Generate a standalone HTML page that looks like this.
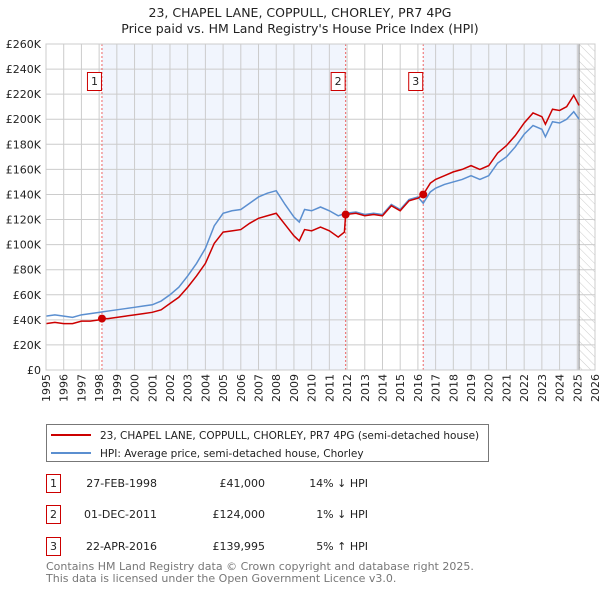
<!DOCTYPE html>
<html><head><meta charset="utf-8"><style>
body{margin:0;background:#fff;width:600px;height:590px;overflow:hidden;font-family:"DejaVu Sans","Liberation Sans",sans-serif}
svg text{font-family:"DejaVu Sans","Liberation Sans",sans-serif}
</style></head><body>
<svg id="chart" width="600" height="590" viewBox="0 0 600 590" xmlns="http://www.w3.org/2000/svg">
<defs><pattern id="hatch" width="6" height="6" patternUnits="userSpaceOnUse" patternTransform="rotate(-45)"><line x1="0" y1="0" x2="0" y2="6" stroke="#ccc" stroke-width="1"/></pattern></defs>
<text x="300" y="17" text-anchor="middle" font-size="12.5" fill="#222">23, CHAPEL LANE, COPPULL, CHORLEY, PR7 4PG</text>
<text x="300" y="33" text-anchor="middle" font-size="12.5" fill="#222">Price paid vs. HM Land Registry's House Price Index (HPI)</text>
<g id="plot"></g>
<g>
<rect x="46.5" y="424.5" width="442" height="37" fill="#fff" stroke="#777"/>
<line x1="51" y1="435" x2="91" y2="435" stroke="#cc0000" stroke-width="2"/>
<text x="100" y="439" font-size="10.5" fill="#222">23, CHAPEL LANE, COPPULL, CHORLEY, PR7 4PG (semi-detached house)</text>
<line x1="51" y1="453" x2="91" y2="453" stroke="#5b8fd0" stroke-width="2"/>
<text x="100" y="457" font-size="10.5" fill="#222">HPI: Average price, semi-detached house, Chorley</text>
</g>
<g font-size="11" fill="#222">
<rect x="46.5" y="474.5" width="14" height="18" fill="#fff" stroke="#cc0000"/><text x="53.5" y="487" text-anchor="middle">1</text>
<text x="157" y="487" text-anchor="end">27-FEB-1998</text><text x="265" y="487" text-anchor="end">£41,000</text><text x="368" y="487" text-anchor="end">14% ↓ HPI</text>
<rect x="46.5" y="505.5" width="14" height="18" fill="#fff" stroke="#cc0000"/><text x="53.5" y="518" text-anchor="middle">2</text>
<text x="157" y="518" text-anchor="end">01-DEC-2011</text><text x="265" y="518" text-anchor="end">£124,000</text><text x="368" y="518" text-anchor="end">1% ↓ HPI</text>
<rect x="46.5" y="537.5" width="14" height="18" fill="#fff" stroke="#cc0000"/><text x="53.5" y="550" text-anchor="middle">3</text>
<text x="157" y="550" text-anchor="end">22-APR-2016</text><text x="265" y="550" text-anchor="end">£139,995</text><text x="368" y="550" text-anchor="end">5% ↑ HPI</text>
</g>
<text x="46" y="570" font-size="11" fill="#777">Contains HM Land Registry data © Crown copyright and database right 2025.</text>
<text x="46" y="582" font-size="11" fill="#777">This data is licensed under the Open Government Licence v3.0.</text>
</svg>
<script>
const yearTicks=[1995,1996,1997,1998,1999,2000,2001,2002,2003,2004,2005,2006,2007,2008,2009,2010,2011,2012,2013,2014,2015,2016,2017,2018,2019,2020,2021,2022,2023,2024,2025,2026];
const valueTicks=[0,20,40,60,80,100,120,140,160,180,200,220,240,260];
const hpiYears=[1995,1995.5,1996,1996.5,1997,1997.5,1998,1998.5,1999,1999.5,2000,2000.5,2001,2001.5,2002,2002.5,2003,2003.5,2004,2004.5,2005,2005.5,2006,2006.5,2007,2007.5,2008,2008.5,2009,2009.3,2009.6,2010,2010.5,2011,2011.5,2011.92,2012.5,2013,2013.5,2014,2014.5,2015,2015.5,2016,2016.3,2016.7,2017,2017.5,2018,2018.5,2019,2019.5,2020,2020.5,2021,2021.5,2022,2022.5,2023,2023.2,2023.6,2024,2024.4,2024.8,2025.1];
const hpiValues=[43,44,43,42,44,45,46,47,48,49,50,51,52,55,60,66,75,85,97,115,125,127,128,133,138,141,143,132,122,118,128,127,130,127,123,125,126,124,125,124,132,128,136,138,133,142,145,148,150,152,155,152,155,165,170,178,188,195,192,186,198,197,200,206,200];
const priceYears=[1995,1995.5,1996,1996.5,1997,1997.5,1998,1998.16,1998.5,1999,1999.5,2000,2000.5,2001,2001.5,2002,2002.5,2003,2003.5,2004,2004.5,2005,2005.5,2006,2006.5,2007,2007.5,2008,2008.5,2009,2009.3,2009.6,2010,2010.5,2011,2011.5,2011.85,2011.92,2012.5,2013,2013.5,2014,2014.5,2015,2015.5,2016,2016.3,2016.7,2017,2017.5,2018,2018.5,2019,2019.5,2020,2020.5,2021,2021.5,2022,2022.5,2023,2023.2,2023.6,2024,2024.4,2024.8,2025.1];
const priceValues=[37,38,37,37,39,39,40,41,41,42,43,44,45,46,48,53,58,66,75,85,101,110,111,112,117,121,123,125,116,107,103,112,111,114,111,106,110,124,125,123,124,123,131,127,135,137,140,149,152,155,158,160,163,160,163,173,179,187,197,205,202,196,208,207,210,219,211];
const saleYears=[1998.16,2011.92,2016.3];
const saleValues=[41,124,140];
const saleLabels=["1","2","3"];
const NS="http://www.w3.org/2000/svg";
const X0=46,X1=595,Y0=370,Y1=44;
const xs=y=>X0+(y-1995)/(2026-1995)*(X1-X0);
const ys=v=>Y0-v/260*(Y0-Y1);
const plot=document.getElementById('plot');
function mk(t,a){const e=document.createElementNS(NS,t);for(const k in a)e.setAttribute(k,a[k]);plot.appendChild(e);return e;}
let r;
r=mk('rect',{x:xs(saleYears[0]),y:Y1,width:xs(saleYears[1])-xs(saleYears[0]),height:Y0-Y1,fill:'#f1f5fd'});


r=mk('rect',{x:xs(saleYears[2]),y:Y1,width:xs(2025.1)-xs(saleYears[2]),height:Y0-Y1,fill:'#f1f5fd'});


r=mk('rect',{x:xs(2025.1),y:Y1,width:X1-xs(2025.1),height:Y0-Y1,fill:'url(#hatch)'});


yearTicks.forEach(y=>{const l=mk('line',{x1:xs(y),x2:xs(y),y1:Y1,y2:Y0,stroke:'#ccc','stroke-width':1});


const t=mk('text',{x:0,y:0,'font-size':11,fill:'#222','text-anchor':'end',transform:`translate(${xs(y)+4},374) rotate(-90)`});t.textContent=y;

});
valueTicks.forEach(v=>{const l=mk('line',{x1:X0,x2:X1,y1:ys(v),y2:ys(v),stroke:'#ccc','stroke-width':1});


const t=mk('text',{x:X0-5,y:ys(v)+4,'font-size':11,fill:'#222','text-anchor':'end'});t.textContent=v===0?'£0':'£'+v+'K';

});
const now=mk('line',{x1:xs(2025.1),x2:xs(2025.1),y1:Y1,y2:Y0,stroke:'#888','stroke-width':1});


saleYears.forEach((y,i)=>{const l=mk('line',{x1:xs(y),x2:xs(y),y1:Y1,y2:Y0,stroke:'#e66','stroke-width':1,'stroke-dasharray':'2,2'});


const b=mk('rect',{x:xs(y)-14.5,y:72.5,width:14,height:18,fill:'#fff',stroke:'#cc0000'});


const t=mk('text',{x:xs(y)-7.5,y:85,'font-size':11,'text-anchor':'middle',fill:'#222'});t.textContent=saleLabels[i];

});
const p1=mk('polyline',{points:hpiYears.map((y,i)=>xs(y)+','+ys(hpiValues[i])).join(' '),fill:'none',stroke:'#5b8fd0','stroke-width':1.5});


const p2=mk('polyline',{points:priceYears.map((y,i)=>xs(y)+','+ys(priceValues[i])).join(' '),fill:'none',stroke:'#cc0000','stroke-width':1.5});


saleYears.forEach((y,i)=>{const c=mk('circle',{cx:xs(y),cy:ys(saleValues[i]),r:4,fill:'#cc0000'});

});
const bd=mk('rect',{x:X0,y:Y1,width:X1-X0,height:Y0-Y1,fill:'none',stroke:'#ccc'});


</script>
</body></html>
